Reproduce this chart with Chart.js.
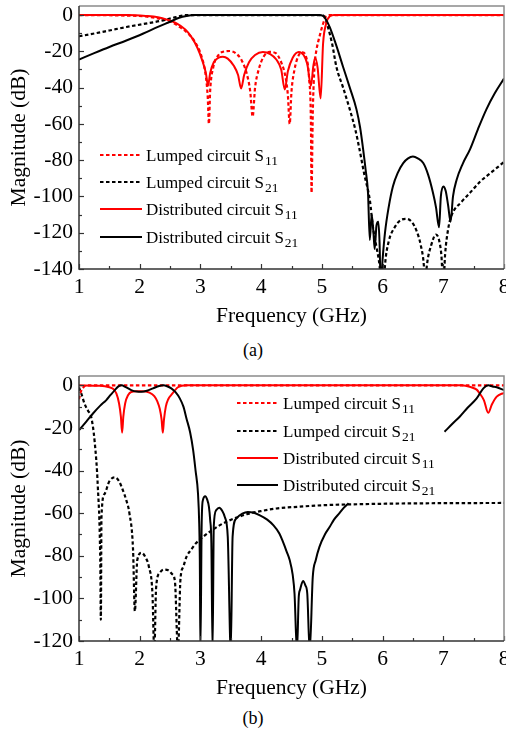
<!DOCTYPE html>
<html>
<head>
<meta charset="utf-8">
<script src="https://cdn.jsdelivr.net/npm/chart.js@4.4.1/dist/chart.umd.min.js"></script>
<style>
  html, body { margin: 0; padding: 0; background: #fff; }
  body { width: 506px; height: 734px; position: relative; overflow: hidden; }
  .wrap { position: absolute; left: 0; width: 506px; height: 335px; }
  .cap { position: absolute; left: 0; width: 506px; text-align: center; font-family: "Liberation Serif", "Times New Roman", serif; font-size: 18px; color: #000; }
</style>
</head>
<body>
<div class="wrap" style="top:0px"><canvas id="chartA" width="506" height="335"></canvas></div>
<div class="cap" style="top:340px">(a)</div>
<div class="wrap" style="top:370px"><canvas id="chartB" width="506" height="335"></canvas></div>
<div class="cap" style="top:708px">(b)</div>
<script>
// ---------------- Data: panel (a) ----------------
const aLumpS11Freq = [1.0,1.8,2.1,2.3,2.49,2.66,2.8,2.91,3.02,3.09,3.12,3.14,3.16,3.21,3.3,3.4,3.48,3.58,3.68,3.76,3.82,3.86,3.9,3.96,4.04,4.14,4.24,4.33,4.4,4.44,4.47,4.5,4.55,4.62,4.68,4.74,4.79,4.82,4.83,4.85,4.88,4.91,4.96,5.02,5.07,5.15,8.0];
const aLumpS11Mag  = [0,-0.3,-0.8,-1.8,-3.3,-6.6,-10.3,-14.8,-23,-34,-45,-60,-42,-29,-22,-20,-19.8,-21,-25,-32,-42,-56,-40,-30,-23,-20.3,-21,-26,-34,-44,-60,-42,-30,-22,-20.5,-23,-35,-60,-98,-55,-28,-19.5,-12,-4.8,-0.7,0,0];

const aLumpS21Freq = [1.0,1.23,1.5,1.78,2.05,2.33,2.6,2.77,5.0,5.05,5.1,5.17,5.24,5.35,5.46,5.55,5.62,5.7,5.79,5.84,5.9,5.95,5.98,6.02,6.04,6.1,6.2,6.3,6.39,6.48,6.56,6.63,6.68,6.7,6.73,6.8,6.88,6.93,6.97,7.0,7.03,7.08,7.13,7.3,7.44,7.6,7.8,8.0];
const aLumpS21Mag  = [-11.7,-10.3,-8.5,-6.6,-5,-3.3,-1.1,0,0,-1.5,-6.6,-16,-28.6,-40,-52,-63,-74,-88,-102,-116.5,-128,-138,-150,-150,-138,-125,-117,-113,-112.4,-114,-119,-127,-138,-150,-138,-127,-121,-124,-133,-150,-132,-118,-111,-103,-98,-92,-86.5,-81];

const aDistS11Freq = [1.0,1.8,2.1,2.3,2.45,2.6,2.75,2.85,2.95,3.03,3.09,3.125,3.16,3.22,3.3,3.37,3.45,3.55,3.62,3.67,3.72,3.8,3.9,4.03,4.15,4.25,4.33,4.39,4.44,4.52,4.62,4.7,4.76,4.82,4.86,4.89,4.93,4.98,5.02,5.07,5.13,5.2,8.0];
const aDistS11Mag  = [0,0,-0.5,-1.2,-2.5,-4.5,-8,-12,-18,-25,-32,-39,-32,-26,-23.5,-23,-24,-28,-33,-40.5,-33,-26,-22,-20.3,-21.5,-24.5,-30,-41,-31,-23.5,-20.3,-22,-27,-39,-28,-23.5,-29,-46,-15.8,-4.8,-0.7,0,0];

const aDistS21Freq = [1.0,1.25,1.5,1.78,2.05,2.3,2.49,2.65,2.77,2.9,4.95,5.02,5.05,5.13,5.24,5.35,5.46,5.57,5.63,5.68,5.72,5.76,5.79,5.82,5.85,5.87,5.9,5.93,5.95,5.97,6.0,6.04,6.1,6.17,6.25,6.34,6.42,6.5,6.58,6.67,6.75,6.83,6.88,6.93,6.96,7.0,7.04,7.08,7.12,7.16,7.22,7.32,7.44,7.57,7.71,7.85,8.0];
const aDistS21Mag  = [-24.5,-21,-17.6,-14,-10.3,-6.5,-3.8,-1.5,-0.5,0,0,-0.5,-1.5,-6.6,-17,-28.6,-40,-52,-62,-74,-85,-98,-124,-110,-120,-129,-116,-114,-125,-150,-135,-120,-106,-94.5,-87,-81.6,-79,-78,-79,-81.6,-88,-98,-106,-117,-100,-94.5,-97,-105,-114,-100,-90.8,-82,-74,-63,-52,-43,-35];

// ---------------- Data: panel (b) ----------------
const bLumpS11Freq = [1.0,1.03,1.07,1.12,8.0];
const bLumpS11Mag  = [-6.5,-3,-1,0,0];

const bLumpS21Freq = [1.0,1.04,1.09,1.15,1.2,1.26,1.31,1.35,1.36,1.37,1.42,1.5,1.59,1.66,1.72,1.78,1.83,1.89,1.92,1.96,2.03,2.1,2.15,2.21,2.24,2.27,2.33,2.4,2.47,2.53,2.58,2.63,2.67,2.72,2.77,2.85,2.93,3.05,3.15,3.3,3.43,3.6,3.76,4.0,4.25,4.6,5.07,5.6,6.17,7.0,8.0];
const bLumpS21Mag  = [-1,-4,-8.5,-12,-14.7,-27,-47.6,-82,-110,-62,-51,-45,-43.2,-45,-49,-54,-60,-77,-106,-82,-78.6,-81,-85,-98,-125,-95,-88,-86.5,-86.8,-88.5,-92,-125,-91.5,-85,-80.5,-77,-74,-71,-68.8,-66,-64,-62,-60.5,-59,-57.8,-57,-56.2,-55.8,-55.5,-55.3,-55.2];

const bDistS11Freq = [1.0,1.35,1.5,1.56,1.615,1.66,1.69,1.71,1.73,1.76,1.81,1.86,1.95,2.03,2.16,2.24,2.29,2.33,2.36,2.38,2.4,2.43,2.47,2.52,2.63,2.77,7.3,7.45,7.55,7.6,7.67,7.74,7.8,7.88,8.0];
const bDistS11Mag  = [0,-0.2,-0.9,-1.6,-3.8,-8.5,-14.7,-22.2,-14.7,-8.5,-4.5,-3.1,-2.8,-2.8,-3.4,-5,-7.5,-11,-16,-22.2,-16,-10,-6.5,-4.5,-0.9,0,0,-0.8,-2,-3.8,-7,-12.9,-9,-5.3,-3.5];

const bDistS21Freq = [1.0,1.12,1.23,1.35,1.45,1.52,1.59,1.65,1.70,1.77,1.86,1.95,2.03,2.12,2.22,2.32,2.39,2.45,2.52,2.59,2.66,2.72,2.77,2.83,2.88,2.92,2.96,2.98,2.99,3.0,3.02,3.04,3.08,3.11,3.14,3.16,3.18,3.2,3.22,3.26,3.31,3.36,3.4,3.45,3.5,3.53,3.59,3.69,3.78,3.88,3.98,4.1,4.2,4.3,4.36,4.42,4.47,4.52,4.55,4.59,4.62,4.64,4.69,4.73,4.76,4.8,4.85,4.9,4.96,5.05,5.13,5.2,5.29,5.36,5.44,6.2,7.02,7.15,7.27,7.4,7.55,7.66,7.74,7.81,7.88,8.0];
const bDistS21Mag  = [-21,-17,-13.2,-9.5,-6.9,-4.5,-2.2,-0.5,0,-0.8,-2.2,-2.9,-3,-2.5,-1.4,-0.3,0,-0.4,-1.4,-3.2,-6.1,-10,-15.5,-22,-30.4,-40,-50.8,-65,-82,-125,-66,-54,-52,-53.5,-57,-63,-74,-125,-66,-58.6,-57.5,-59,-61.7,-71,-125,-71,-62.5,-60.2,-59.4,-59.8,-61,-63,-65.6,-69.5,-73.5,-78,-82,-89,-97.8,-125,-99,-96,-91.8,-94,-97.8,-125,-90,-82,-75.8,-70,-66.4,-63,-60,-57.5,-55.3,null,-21.8,-18,-14.7,-10.5,-6.1,-1.4,0,-0.5,-0.9,-2.2];

// ---------------- Axis ticks / labels ----------------
const xTickValues = [1,2,3,4,5,6,7,8];
const aYTicks = [-140,-120,-100,-80,-60,-40,-20,0];
const bYTicks = [-120,-100,-80,-60,-40,-20,0];
const xTitle = 'Frequency (GHz)';
const yTitle = 'Magnitude (dB)';
const legendLabels = [
  ['Lumped circuit S', '11'],
  ['Lumped circuit S', '21'],
  ['Distributed circuit S', '11'],
  ['Distributed circuit S', '21']
];

const SERIF = '"Liberation Serif", "Times New Roman", serif';
const RED = '#ff0000';
const BLACK = '#000000';
const DASH = [3.5, 2.5];

function pts(fs, ms) { return fs.map((f, i) => ({ x: f, y: ms[i] })); }

function series(label, fs, ms, color, dashed) {
  return {
    label: label,
    data: pts(fs, ms),
    borderColor: color,
    backgroundColor: color,
    borderWidth: dashed ? 2.2 : 2,
    borderDash: dashed ? DASH : [],
    pointRadius: 0,
    cubicInterpolationMode: 'monotone',
    spanGaps: false,
    fill: false
  };
}

const styles = [
  { color: RED, dashed: true },
  { color: BLACK, dashed: true },
  { color: RED, dashed: false },
  { color: BLACK, dashed: false }
];

// Frame, inward ticks and custom legend with subscripts
const decor = {
  id: 'decor',
  afterDatasetsDraw(chart, args, opts) {
    const ctx = chart.ctx;
    const a = chart.chartArea;
    const xs = chart.scales.x, ys = chart.scales.y;
    ctx.save();
    ctx.strokeStyle = '#333';
    ctx.lineWidth = 1.2;
    ctx.setLineDash([]);
    for (let v = 1; v <= 8.001; v += 0.5) {
      const px = Math.round(xs.getPixelForValue(v)) + 0.5;
      const major = Math.abs(v - Math.round(v)) < 1e-6;
      ctx.beginPath();
      ctx.moveTo(px, a.bottom);
      ctx.lineTo(px, a.bottom - (major ? 5 : 3));
      ctx.stroke();
    }
    for (let v = opts.yMin; v <= 0.001; v += 10) {
      const py = Math.round(ys.getPixelForValue(v)) + 0.5;
      const major = Math.abs(v % 20) < 1e-6;
      ctx.beginPath();
      ctx.moveTo(a.left, py);
      ctx.lineTo(a.left + (major ? 5 : 3), py);
      ctx.stroke();
    }
    ctx.lineWidth = 1.5;
    ctx.strokeStyle = '#8a8a8a';
    ctx.beginPath();
    ctx.moveTo(a.left, a.top);
    ctx.lineTo(a.right, a.top);
    ctx.lineTo(a.right, a.bottom);
    ctx.stroke();
    ctx.strokeStyle = '#333';
    ctx.beginPath();
    ctx.moveTo(a.left, a.top);
    ctx.lineTo(a.left, a.bottom);
    ctx.lineTo(a.right, a.bottom);
    ctx.stroke();
    const L = opts.legend;
    legendLabels.forEach((lab, i) => {
      const y = L.rows[i];
      const st = styles[i];
      ctx.strokeStyle = st.color;
      ctx.lineWidth = st.dashed ? 2.2 : 2;
      ctx.setLineDash(st.dashed ? DASH : []);
      ctx.beginPath();
      ctx.moveTo(L.x1, y);
      ctx.lineTo(L.x2, y);
      ctx.stroke();
      ctx.setLineDash([]);
      ctx.fillStyle = '#000';
      ctx.textBaseline = 'alphabetic';
      ctx.textAlign = 'left';
      ctx.font = '17px ' + SERIF;
      const base = y + 6;
      ctx.fillText(lab[0], L.tx, base);
      const w = ctx.measureText(lab[0]).width;
      ctx.font = '13.5px ' + SERIF;
      ctx.fillText(lab[1], L.tx + w + 1, base + 4);
    });
    ctx.restore();
  }
};

function makeChart(id, datasets, yMin, yMax, yTickVals, areaBottom, titlePadBottom, legend) {
  const H = 335;
  return new Chart(document.getElementById(id), {
    type: 'line',
    data: { datasets: datasets },
    plugins: [decor],
    options: {
      responsive: false,
      animation: false,
      events: [],
      layout: { padding: { left: 0, right: 2, top: 6, bottom: 0 } },
      plugins: {
        legend: { display: false },
        tooltip: { enabled: false },
        decor: { yMin: yMin, legend: legend }
      },
      scales: {
        x: {
          type: 'linear',
          min: 1, max: 8,
          grid: { display: false, drawTicks: false },
          border: { display: false },
          afterBuildTicks(s) { s.ticks = xTickValues.map(v => ({ value: v })); },
          ticks: { padding: 5, color: '#000', font: { family: SERIF, size: 21.5 }, maxRotation: 0, autoSkip: false,
                   callback: v => String(v) },
          title: { display: true, text: xTitle, color: '#000', font: { family: SERIF, size: 21.5 }, padding: { top: 0, bottom: titlePadBottom } },
          afterFit(s) { s.height = H - areaBottom; s.paddingLeft = 0; s.paddingRight = 0; }
        },
        y: {
          type: 'linear',
          min: yMin, max: yMax,
          grid: { display: false, drawTicks: false },
          border: { display: false },
          afterBuildTicks(s) { s.ticks = yTickVals.map(v => ({ value: v })); },
          ticks: { padding: 6, color: '#000', font: { family: SERIF, size: 21.5 }, autoSkip: false,
                   callback: v => String(v) },
          title: { display: true, text: yTitle, color: '#000', font: { family: SERIF, size: 21.5 }, padding: { top: 6, bottom: 0 } },
          afterFit(s) { s.width = 79; s.paddingTop = 0; s.paddingBottom = 0; }
        }
      }
    }
  });
}

const dsA = [
  series('Distributed circuit S21', aDistS21Freq, aDistS21Mag, BLACK, false),
  series('Distributed circuit S11', aDistS11Freq, aDistS11Mag, RED, false),
  series('Lumped circuit S21', aLumpS21Freq, aLumpS21Mag, BLACK, true),
  series('Lumped circuit S11', aLumpS11Freq, aLumpS11Mag, RED, true)
];
const dsB = [
  series('Distributed circuit S21', bDistS21Freq, bDistS21Mag, BLACK, false),
  series('Lumped circuit S11', bLumpS11Freq, bLumpS11Mag, RED, true),
  series('Distributed circuit S11', bDistS11Freq, bDistS11Mag, RED, false),
  series('Lumped circuit S21', bLumpS21Freq, bLumpS21Mag, BLACK, true)
];

makeChart('chartA', dsA, -140, 5, aYTicks, 269, 6,
  { x1: 100, x2: 142, tx: 146, rows: [155, 182, 209, 237] });
makeChart('chartB', dsB, -120, 4.4, bYTicks, 271, 4,
  { x1: 237, x2: 278, tx: 283, rows: [33, 61, 88, 115] });
</script>
</body>
</html>
